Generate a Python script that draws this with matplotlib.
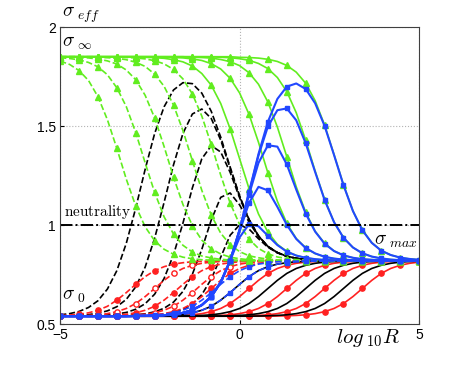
import numpy as np
import matplotlib
matplotlib.use("Agg")
import matplotlib.pyplot as plt

plt.rcParams["mathtext.fontset"] = "cm"
plt.rcParams["font.family"] = ["Liberation Sans", "DejaVu Sans"]

# log10 R sample points; markers sit on every second one
logR = np.linspace(-5, 5, 39)

# green, triangles: sigma_inf -> sigma_max
green_dashed = [
    [1.828, 1.811, 1.780, 1.730, 1.648, 1.532, 1.387, 1.232, 1.096, 0.991, 0.921, 0.878, 0.853, 0.838, 0.830, 0.825, 0.823, 0.822, 0.821] + [0.82] * 20,
    [1.845, 1.841, 1.834, 1.821, 1.799, 1.759, 1.693, 1.598, 1.467, 1.314, 1.165, 1.042, 0.955, 0.898, 0.864, 0.844, 0.834, 0.827, 0.824, 0.822, 0.821] + [0.82] * 18,
    [1.849, 1.848, 1.846, 1.844, 1.838, 1.829, 1.813, 1.783, 1.734, 1.655, 1.541, 1.397, 1.242, 1.104, 0.997, 0.924, 0.880, 0.854, 0.838, 0.830, 0.825, 0.823, 0.822, 0.821] + [0.82] * 15,
    [1.85, 1.85, 1.85, 1.848, 1.847, 1.845, 1.842, 1.835, 1.822, 1.801, 1.762, 1.701, 1.606, 1.477, 1.325, 1.175, 1.050, 0.959, 0.901, 0.866, 0.845, 0.835, 0.828, 0.824, 0.822, 0.821] + [0.82] * 13,
    [1.85] * 5 + [1.849, 1.848, 1.846, 1.844, 1.839, 1.830, 1.814, 1.786, 1.738, 1.662, 1.550, 1.407, 1.252, 1.111, 1.003, 0.929, 0.882, 0.855, 0.839, 0.831, 0.826, 0.823, 0.822, 0.821] + [0.82] * 10,
]
green_solid = [
    [1.85] * 9 + [1.847, 1.845, 1.842, 1.835, 1.824, 1.803, 1.765, 1.706, 1.614, 1.486, 1.335, 1.184, 1.056, 0.964, 0.903, 0.867, 0.847, 0.834, 0.828, 0.824, 0.822, 0.821] + [0.82] * 8,
    [1.85] * 11 + [1.848, 1.846, 1.844, 1.839, 1.831, 1.815, 1.788, 1.741, 1.667, 1.559, 1.418, 1.263, 1.120, 1.009, 0.932, 0.885, 0.856, 0.840, 0.831, 0.826, 0.823, 0.822, 0.821] + [0.82] * 5,
    [1.85] * 14 + [1.847, 1.846, 1.843, 1.836, 1.825, 1.805, 1.769, 1.711, 1.621, 1.495, 1.345, 1.193, 1.064, 0.969, 0.908, 0.869, 0.848, 0.835, 0.828, 0.825, 0.823, 0.822, 0.821, 0.82, 0.82],
    [1.85] * 17 + [1.847, 1.845, 1.840, 1.832, 1.816, 1.790, 1.745, 1.674, 1.567, 1.428, 1.273, 1.129, 1.015, 0.936, 0.887, 0.857, 0.841, 0.831, 0.826, 0.823, 0.821, 0.82],
    [1.85] * 19 + [1.847, 1.846, 1.843, 1.837, 1.826, 1.806, 1.772, 1.716, 1.628, 1.505, 1.356, 1.204, 1.072, 0.975, 0.911, 0.871, 0.849, 0.836, 0.829, 0.825],
]

# black dashed: bumps sigma_0 -> peak -> sigma_max
black_dashed = [
    [0.547, 0.553, 0.564, 0.584, 0.618, 0.677, 0.770, 0.908, 1.086, 1.282, 1.462, 1.597, 1.682, 1.719, 1.714, 1.666, 1.574, 1.444, 1.293, 1.147, 1.028, 0.945, 0.892, 0.861, 0.843, 0.832, 0.827, 0.824, 0.822, 0.821] + [0.82] * 9,
    [0.541, 0.542, 0.544, 0.548, 0.555, 0.567, 0.588, 0.625, 0.688, 0.788, 0.933, 1.114, 1.304, 1.463, 1.561, 1.586, 1.538, 1.429, 1.287, 1.145, 1.028, 0.945, 0.892, 0.861, 0.843, 0.832, 0.827, 0.824, 0.822, 0.821] + [0.82] * 9,
    [0.54, 0.541, 0.541, 0.542, 0.543, 0.546, 0.551, 0.559, 0.575, 0.603, 0.651, 0.730, 0.850, 1.010, 1.188, 1.335, 1.401, 1.369, 1.266, 1.138, 1.026, 0.945, 0.892, 0.861, 0.843, 0.832, 0.827, 0.824, 0.822, 0.821] + [0.82] * 9,
    [0.54, 0.54, 0.54, 0.54, 0.54, 0.541, 0.542, 0.544, 0.547, 0.552, 0.562, 0.580, 0.611, 0.665, 0.752, 0.878, 1.026, 1.140, 1.162, 1.102, 1.015, 0.942, 0.891, 0.861, 0.843, 0.832, 0.827, 0.824, 0.822, 0.821] + [0.82] * 9,
    [0.54] * 8 + [0.542, 0.543, 0.546, 0.550, 0.559, 0.574, 0.601, 0.649, 0.728, 0.838, 0.949, 1.001, 0.980, 0.931, 0.888, 0.860, 0.842, 0.832, 0.827, 0.824, 0.822, 0.821] + [0.82] * 9,
]

# blue solid, squares: bumps
blue_solid = [
    [0.54] * 8 + [0.541, 0.542, 0.543, 0.545, 0.549, 0.557, 0.571, 0.597, 0.641, 0.714, 0.821, 0.938, 1.005, 0.994, 0.946, 0.899, 0.866, 0.846, 0.835, 0.828, 0.824, 0.822, 0.821] + [0.82] * 8,
    [0.54] * 8 + [0.541, 0.542, 0.543, 0.545, 0.549, 0.557, 0.571, 0.596, 0.639, 0.711, 0.821, 0.967, 1.112, 1.193, 1.175, 1.092, 1.001, 0.930, 0.884, 0.857, 0.840, 0.831, 0.826, 0.823, 0.822] + [0.82] * 6,
    [0.54] * 8 + [0.541, 0.542, 0.543, 0.545, 0.549, 0.557, 0.571, 0.596, 0.639, 0.710, 0.821, 0.975, 1.154, 1.314, 1.403, 1.396, 1.306, 1.179, 1.058, 0.967, 0.906, 0.869, 0.847, 0.835, 0.828, 0.825, 0.823, 0.821] + [0.82] * 3,
    [0.54] * 8 + [0.541, 0.542, 0.543, 0.545, 0.549, 0.557, 0.571, 0.596, 0.639, 0.710, 0.821, 0.977, 1.164, 1.351, 1.498, 1.580, 1.589, 1.529, 1.413, 1.268, 1.127, 1.015, 0.936, 0.887, 0.858, 0.841, 0.832, 0.826, 0.823, 0.821, 0.82],
    [0.54] * 8 + [0.541, 0.542, 0.543, 0.545, 0.549, 0.557, 0.571, 0.596, 0.639, 0.710, 0.821, 0.977, 1.167, 1.359, 1.522, 1.637, 1.699, 1.715, 1.687, 1.615, 1.501, 1.354, 1.202, 1.071, 0.974, 0.910, 0.871, 0.849, 0.836, 0.829, 0.825],
]

# red, circles: sigma_0 -> sigma_max
red_dashed = [
    [0.543, 0.546, 0.550, 0.557, 0.570, 0.590, 0.621, 0.659, 0.701, 0.740, 0.770, 0.790, 0.803, 0.810, 0.815, 0.817, 0.818, 0.819] + [0.82] * 21,
    [0.54] * 4 + [0.542, 0.543, 0.546, 0.550, 0.557, 0.570, 0.590, 0.621, 0.659, 0.701, 0.740, 0.770, 0.790, 0.803, 0.810, 0.815, 0.817, 0.818, 0.819] + [0.82] * 16,
    [0.54] * 7 + [0.541, 0.542, 0.544, 0.547, 0.553, 0.563, 0.579, 0.604, 0.639, 0.680, 0.721, 0.756, 0.781, 0.797, 0.807, 0.813, 0.816, 0.818, 0.819] + [0.82] * 13,
]
red_dashed_open = [
    [0.54, 0.541, 0.542, 0.544, 0.547, 0.553, 0.563, 0.579, 0.604, 0.639, 0.680, 0.721, 0.756, 0.781, 0.797, 0.807, 0.813, 0.816, 0.818, 0.819] + [0.82] * 19,
    [0.54] * 6 + [0.542, 0.543, 0.546, 0.550, 0.557, 0.570, 0.590, 0.621, 0.659, 0.701, 0.740, 0.770, 0.790, 0.803, 0.810, 0.815, 0.817, 0.818, 0.819] + [0.82] * 14,
]
red_solid = [
    [0.54] * 11 + [0.541, 0.542, 0.544, 0.547, 0.553, 0.563, 0.579, 0.604, 0.639, 0.680, 0.721, 0.756, 0.781, 0.797, 0.807, 0.813, 0.816, 0.818, 0.819] + [0.82] * 9,
    [0.54] * 15 + [0.541, 0.542, 0.544, 0.547, 0.553, 0.563, 0.579, 0.604, 0.639, 0.680, 0.721, 0.756, 0.781, 0.797, 0.807, 0.813, 0.816, 0.818, 0.819] + [0.82] * 5,
    [0.54] * 19 + [0.541, 0.542, 0.544, 0.547, 0.553, 0.563, 0.579, 0.604, 0.639, 0.680, 0.721, 0.756, 0.781, 0.797, 0.807, 0.813, 0.816, 0.818, 0.819, 0.82],
    [0.54] * 23 + [0.541, 0.542, 0.544, 0.547, 0.553, 0.563, 0.579, 0.604, 0.639, 0.680, 0.721, 0.756, 0.781, 0.797, 0.807, 0.813],
]

# black solid: sigma_0 -> sigma_max
black_solid = [
    [0.54] * 10 + [0.542, 0.543, 0.546, 0.550, 0.557, 0.570, 0.590, 0.621, 0.659, 0.701, 0.740, 0.770, 0.790, 0.803, 0.810, 0.815, 0.817, 0.818, 0.819] + [0.82] * 10,
    [0.54] * 13 + [0.541, 0.542, 0.544, 0.547, 0.553, 0.563, 0.579, 0.604, 0.639, 0.680, 0.721, 0.756, 0.781, 0.797, 0.807, 0.813, 0.816, 0.818, 0.819] + [0.82] * 7,
    [0.54] * 17 + [0.541, 0.542, 0.544, 0.547, 0.553, 0.563, 0.579, 0.604, 0.639, 0.680, 0.721, 0.756, 0.781, 0.797, 0.807, 0.813, 0.816, 0.818, 0.819] + [0.82] * 3,
    [0.54] * 21 + [0.541, 0.542, 0.544, 0.547, 0.553, 0.563, 0.579, 0.604, 0.639, 0.680, 0.721, 0.756, 0.781, 0.797, 0.807, 0.813, 0.816, 0.818],
]

# blue dashed, squares: sigma_0 -> sigma_max
blue_dashed = [
    [0.54] * 8 + [0.542, 0.543, 0.546, 0.550, 0.557, 0.570, 0.590, 0.621, 0.659, 0.701, 0.740, 0.770, 0.790, 0.803, 0.810, 0.815, 0.817, 0.818, 0.819] + [0.82] * 12,
    [0.54] * 10 + [0.542, 0.543, 0.546, 0.550, 0.557, 0.570, 0.590, 0.621, 0.659, 0.701, 0.740, 0.770, 0.790, 0.803, 0.810, 0.815, 0.817, 0.818, 0.819] + [0.82] * 10,
]

GREEN = (0.38, 0.93, 0.12)
RED = (1.0, 0.13, 0.13)
BLUE = (0.13, 0.28, 1.0)

fig = plt.figure(figsize=(4.63, 3.65), dpi=100)
ax = fig.add_axes([0.13, 0.112, 0.775, 0.814])


def draw(curves, color, ls, marker=None, mfc=None, ms=3.8, lw=1.2):
    for ys in curves:
        ax.plot(logR, ys, ls=ls, color=color, lw=lw, marker=marker, ms=ms,
                markevery=2, mfc=mfc if mfc else color, mec=color, mew=1.0)


draw(black_dashed, "k", "--")
draw(red_dashed, RED, "--", "o")
draw(red_dashed_open, RED, "--", "o", mfc="white")
draw(red_solid, RED, "-", "o")
draw(black_solid, "k", "-")
draw(green_dashed, GREEN, "--", "^", ms=4.2)
draw(green_solid, GREEN, "-", "^", ms=4.2)
draw(blue_dashed, BLUE, "--", "s", ms=3.5)
draw(blue_solid, BLUE, "-", "s", ms=3.5, lw=1.5)

ax.axhline(1.0, color="k", ls="-.", lw=1.4)

ax.set_xlim(-5, 5)
ax.set_ylim(0.5, 2)
ax.set_xticks([-5, 0, 5])
ax.set_yticks([0.5, 1, 1.5, 2])
ax.set_xticklabels(["\u22125", "0", "5"])
ax.set_yticklabels(["0.5", "1", "1.5", "2"])
ax.grid(True, ls=":", color="0.7", lw=0.8)
ax.tick_params(direction="in", length=3, labelsize=10, pad=3)
for s in ax.spines.values():
    s.set_color("0.25")

ax.text(-4.95, 2.01, r"$\sigma_{\ eff}$", fontsize=14, va="bottom")
ax.text(-4.95, 1.92, r"$\sigma_{\ \infty}$", fontsize=14, va="center")
ax.text(-4.9, 1.02, r"$\mathrm{neutrality}$", fontsize=11, va="bottom")
ax.text(-4.95, 0.64, r"$\sigma_{\ 0}$", fontsize=14, va="center")
ax.text(3.75, 0.92, r"$\sigma_{\ max}$", fontsize=14, va="center", clip_on=False)
ax.text(2.7, 0.43, r"$log_{\ 10}R$", fontsize=15, va="center")

fig.savefig("out.png", dpi=100)
